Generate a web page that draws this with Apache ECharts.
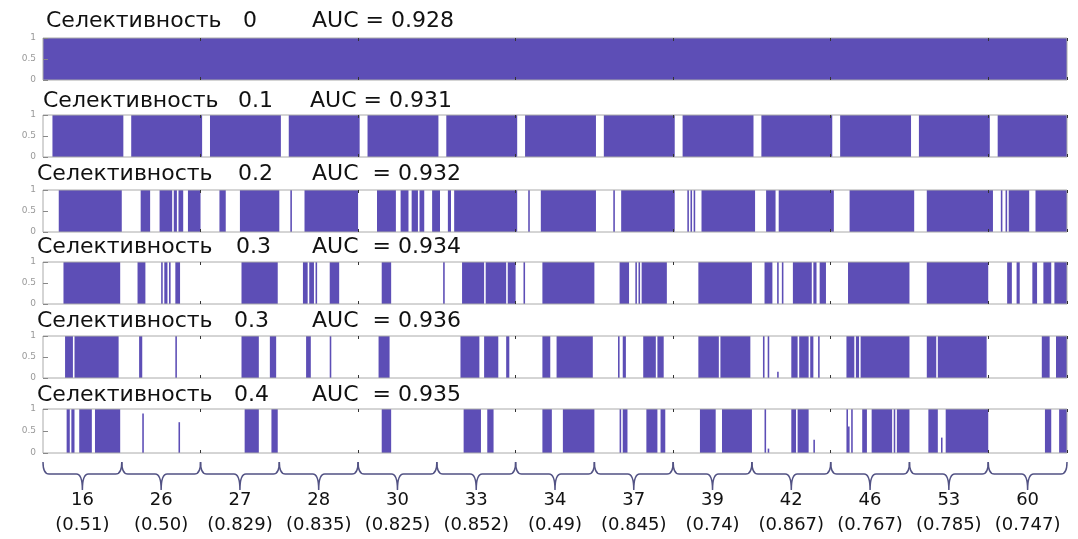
<!DOCTYPE html>
<html>
<head>
<meta charset="utf-8">
<script src="https://cdn.jsdelivr.net/npm/echarts@6/dist/echarts.min.js"></script>
<style>
  html, body { margin: 0; padding: 0; background: #fff; }
  #container { width: 1078px; height: 539px; }
</style>
</head>
<body>
<div id="container"></div>
<script>
// признаки 1..650, 13 групп по 50
const featureCount = 650;
const featureIds = Array.from({ length: featureCount }, (_, i) => String(i + 1));

const selectivity = ['0', '0.1', '0.2', '0.3', '0.3', '0.4'];
const aucValues = ['0.928', '0.931', '0.932', '0.934', '0.936', '0.935'];

// выбранные признаки: интервалы [с, по]
const selected1 = [[1, 650]];
const selected2 = [[7, 51], [57, 101], [107, 151], [157, 201], [207, 251], [257, 301], [307, 351],
  [357, 401], [407, 451], [457, 501], [507, 551], [557, 601], [607, 650]];
const selected3 = [[11, 50], [63, 68], [75, 82], [84, 85], [87, 89], [93, 100], [113, 116], [126, 150],
  [158, 158], [167, 200], [213, 224], [228, 232], [235, 238], [240, 242], [248, 252], [258, 259],
  [262, 301], [309, 309], [317, 351], [363, 363], [368, 401], [410, 410], [412, 412], [414, 414],
  [419, 452], [460, 465], [468, 502], [513, 553], [562, 603], [609, 609], [612, 612], [614, 626], [631, 650]];
const selected4 = [[14, 49], [61, 65], [76, 76], [78, 79], [81, 81], [85, 87], [127, 149], [166, 168],
  [170, 172], [174, 174], [183, 188], [216, 221], [255, 255], [267, 280], [282, 294], [296, 300],
  [306, 306], [318, 350], [367, 372], [377, 377], [379, 379], [381, 396], [417, 450], [459, 463],
  [467, 467], [470, 470], [477, 488], [490, 491], [494, 497], [512, 550], [562, 600], [613, 615],
  [619, 620], [629, 631], [636, 640], [643, 650]];
const selected5 = [[15, 19], [21, 48], [62, 63], [85, 85], [127, 137], [145, 148], [168, 170], [183, 183],
  [214, 220], [266, 277], [281, 289], [295, 296], [318, 322], [327, 349], [366, 366], [369, 370],
  [382, 389], [391, 394], [417, 429], [431, 449], [458, 458], [461, 461], [476, 479], [481, 486],
  [488, 489], [493, 493], [511, 515], [517, 518], [520, 550], [562, 567], [569, 599], [635, 639], [644, 650]];
const selected6 = [[16, 17], [19, 20], [24, 31], [34, 49], [129, 137], [146, 149], [216, 221], [268, 278],
  [283, 286], [318, 323], [331, 350], [367, 367], [369, 371], [384, 390], [393, 395], [418, 427],
  [432, 450], [459, 459], [476, 478], [480, 486], [511, 511], [514, 514], [521, 523], [527, 539],
  [541, 541], [543, 550], [563, 568], [574, 600], [637, 640], [646, 650]];

// неполные столбики [признак, значение]
const partial5 = [[467, 0.15]];
const partial6 = [[64, 0.9], [87, 0.7], [461, 0.1], [490, 0.3], [512, 0.6], [571, 0.35]];

const groupNums = ['16', '26', '27', '28', '30', '33', '34', '37', '39', '42', '46', '53', '60'];
const groupScores = ['0.51', '0.50', '0.829', '0.835', '0.825', '0.852', '0.49', '0.845', '0.74',
  '0.867', '0.767', '0.785', '0.747'];

const panels = [
  [selected1, []], [selected2, []], [selected3, []],
  [selected4, []], [selected5, partial5], [selected6, partial6]
];

// [индекс с, индекс по, высота] для custom-серии
function buildRuns(ranges, partial) {
  const runs = ranges.map(function (r) { return [r[0] - 1, r[1] - 1, 1]; });
  partial.forEach(function (p) { runs.push([p[0] - 1, p[0] - 1, p[1]]); });
  return runs;
}

// раскладка
const plotLeft = 43, plotRight = 11;
const panelTop = [38, 115, 190, 262, 336, 409];
const panelHeight = [42, 42, 42, 42, 42, 44];
const titleY = [21, 101, 174, 247, 321, 395];
const titleX = [[46, 243, 312], [43, 238, 310], [37, 238, 312], [37, 236, 312], [37, 234, 312], [37, 234, 312]];
const barColor = '#5d4eb6';
const titleFont = '22px "DejaVu Sans"';

const dom = document.getElementById('container');
const myChart = echarts.init(dom, null, { renderer: 'canvas' });

let grid = [], xAxis = [], yAxis = [], series = [], graphic = [];

const tickFn = function (idx) { return idx > 0 && idx % 100 === 0; };

function renderRun(params, api) {
  const half = api.size([1, 0])[0] / 2;
  const p0 = api.coord([api.value(0), 0]);
  const p1 = api.coord([api.value(1), api.value(2)]);
  return {
    type: 'rect',
    shape: { x: p0[0] - half, y: p1[1], width: p1[0] - p0[0] + 2 * half, height: p0[1] - p1[1] },
    style: { fill: barColor }
  };
}

panels.forEach(function (p, k) {
  grid.push({
    left: plotLeft, right: plotRight, top: panelTop[k], height: panelHeight[k],
    show: true, z: 10, borderColor: '#aaaaaa', borderWidth: 1, backgroundColor: 'transparent'
  });
  ['bottom', 'top'].forEach(function (pos) {
    xAxis.push({
      type: 'category', gridIndex: k, position: pos, data: featureIds, z: 10,
      axisLine: { show: false },
      axisTick: { show: true, inside: true, length: 3, interval: tickFn, lineStyle: { color: '#333', width: 1 } },
      axisLabel: { show: false },
      splitLine: { show: false }
    });
  });
  yAxis.push({
    type: 'value', gridIndex: k, min: 0, max: 1, interval: 0.5, z: 10,
    axisLine: { show: false },
    axisTick: { show: true, inside: true, length: 5, lineStyle: { color: '#888' } },
    axisLabel: { fontSize: 9, color: '#999', margin: 7, fontFamily: 'DejaVu Sans' },
    splitLine: { show: false }
  });
  series.push({
    type: 'custom', xAxisIndex: 2 * k, yAxisIndex: k,
    data: buildRuns(p[0], p[1]),
    encode: { x: [0, 1], y: 2 },
    renderItem: renderRun,
    silent: true
  });
  const auc = (k < 2 ? 'AUC = ' : 'AUC  = ') + aucValues[k];
  [['Селективность', 0], [selectivity[k], 1], [auc, 2]].forEach(function (t) {
    graphic.push({
      type: 'text', x: titleX[k][t[1]], y: titleY[k], silent: true,
      style: { text: t[0], font: titleFont, fill: '#111', verticalAlign: 'middle', textVerticalAlign: 'middle' }
    });
  });
});

// фигурные скобки и подписи групп
const braceGrid = panels.length;
grid.push({ left: plotLeft, right: plotRight, top: 462, height: 28 });
xAxis.push({
  type: 'category', gridIndex: braceGrid, data: groupNums,
  axisLine: { show: false }, axisTick: { show: false },
  axisLabel: {
    interval: 0, margin: 0,
    formatter: function (v, i) { return '{n|' + v + '}\n{s|(' + groupScores[i] + ')}'; },
    rich: {
      n: { fontSize: 18, lineHeight: 20, fontFamily: 'DejaVu Sans', color: '#111' },
      s: { fontSize: 18, lineHeight: 30, fontFamily: 'DejaVu Sans', color: '#111' }
    }
  }
});
yAxis.push({ type: 'value', gridIndex: braceGrid, min: 0, max: 1, show: false });
series.push({
  type: 'custom', xAxisIndex: xAxis.length - 1, yAxisIndex: yAxis.length - 1,
  data: groupNums.map(function (_, i) { return [i]; }),
  encode: { x: 0 },
  silent: true,
  renderItem: function (params, api) {
    const cx = api.coord([api.value(0), 0])[0];
    const half = api.size([1, 0])[0] / 2;
    const top = params.coordSys.y;
    const bottom = top + params.coordSys.height;
    const mid = top + 12, r = 6;
    const x0 = cx - half, x1 = cx + half;
    const d = 'M' + x0 + ' ' + top + ' Q' + x0 + ' ' + mid + ' ' + (x0 + r) + ' ' + mid +
      ' L' + (cx - r) + ' ' + mid + ' Q' + cx + ' ' + mid + ' ' + cx + ' ' + bottom +
      ' Q' + cx + ' ' + mid + ' ' + (cx + r) + ' ' + mid +
      ' L' + (x1 - r) + ' ' + mid + ' Q' + x1 + ' ' + mid + ' ' + x1 + ' ' + top;
    return { type: 'path', shape: { pathData: d }, style: { stroke: '#525284', fill: null, lineWidth: 1.5 } };
  }
});

const option = {
  backgroundColor: '#fff',
  animation: false,
  grid: grid,
  xAxis: xAxis,
  yAxis: yAxis,
  series: series,
  graphic: { elements: graphic }
};

myChart.setOption(option);
</script>
</body>
</html>
